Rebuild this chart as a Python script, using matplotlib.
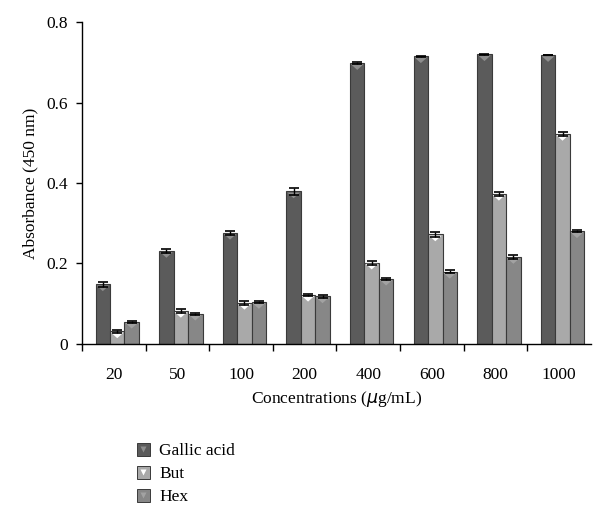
import numpy as np
import matplotlib.pyplot as plt
from matplotlib.patches import Patch
from matplotlib.lines import Line2D

plt.rcParams['font.family'] = ['Liberation Serif', 'DejaVu Serif']

concentrations = ['20', '50', '100', '200', '400', '600', '800', '1000']
gallic = [0.148, 0.231, 0.276, 0.379, 0.698, 0.715, 0.720, 0.718]
gallic_err = [0.006, 0.005, 0.005, 0.009, 0.002, 0.001, 0.001, 0.001]
but = [0.031, 0.082, 0.102, 0.122, 0.202, 0.272, 0.373, 0.522]
but_err = [0.003, 0.005, 0.005, 0.003, 0.005, 0.006, 0.005, 0.004]
hexane = [0.055, 0.075, 0.104, 0.118, 0.162, 0.179, 0.216, 0.280]
hex_err = [0.003, 0.002, 0.003, 0.004, 0.002, 0.004, 0.006, 0.002]

series = [
    ('Gallic acid', gallic, gallic_err, '#5b5b5b', '#8e8e8e'),
    ('But', but, but_err, '#a9a9a9', '#ffffff'),
    ('Hex', hexane, hex_err, '#878787', '#a2a2a2'),
]

# flat downward triangle drawn just under each bar top
tri_marker = [(-1, 0), (1, 0), (0, -0.9), (-1, 0)]

fig = plt.figure(figsize=(5.98, 5.14), dpi=100)
ax = fig.add_axes([0.137, 0.331, 0.851, 0.626])

x = np.arange(len(concentrations))
w = 0.227
shift = 0.055
for i, (name, vals, errs, fc, tri) in enumerate(series):
    pos = x + shift + (i - 1) * w
    ax.bar(pos, vals, width=w, color=fc, edgecolor='#3a3a3a', linewidth=0.8, zorder=2)
    ax.scatter(pos, np.array(vals) - 0.003, marker=tri_marker, s=80, color=tri,
               edgecolor='none', zorder=3)
    ax.errorbar(pos, vals, yerr=errs, fmt='none', ecolor='black', elinewidth=1.0,
                capsize=3.5, capthick=1.2, zorder=4)

ax.set_xlim(-0.5, len(concentrations) - 0.5)
ax.set_ylim(0, 0.8)
ax.set_yticks([0, 0.2, 0.4, 0.6, 0.8])
ax.set_yticklabels(['0', '0.2', '0.4', '0.6', '0.8'])
ax.set_xticks(x)
ax.set_xticklabels(concentrations)
ax.set_xticks(np.arange(len(concentrations)) - 0.5, minor=True)
ax.tick_params(axis='x', which='major', length=0, pad=17, labelsize=12.5)
ax.tick_params(axis='x', which='minor', length=5, width=1.0, direction='out')
ax.tick_params(axis='y', length=4, width=1.0, labelsize=12.5, pad=6)
for s in ['top', 'right']:
    ax.spines[s].set_visible(False)
for s in ['left', 'bottom']:
    ax.spines[s].set_linewidth(1.0)

ax.set_ylabel('Absorbance (450 nm)', fontsize=12.5, labelpad=6)
ax.set_xlabel(r'Concentrations ($\mu$g/mL)', fontsize=12.5, labelpad=4)

handles = [(Patch(facecolor=s[3], edgecolor='#3a3a3a', linewidth=0.7),
            Line2D([], [], linestyle='none', marker='v', markersize=5,
                   markerfacecolor=s[4], markeredgecolor='none'))
           for s in series]
fig.legend(handles, [s[0] for s in series], loc='upper left', bbox_to_anchor=(0.217, 0.152),
           frameon=False, fontsize=12.5, handlelength=0.75, handleheight=0.75,
           handletextpad=0.55, labelspacing=0.38, borderaxespad=0)

fig.savefig('out.png', dpi=100)
